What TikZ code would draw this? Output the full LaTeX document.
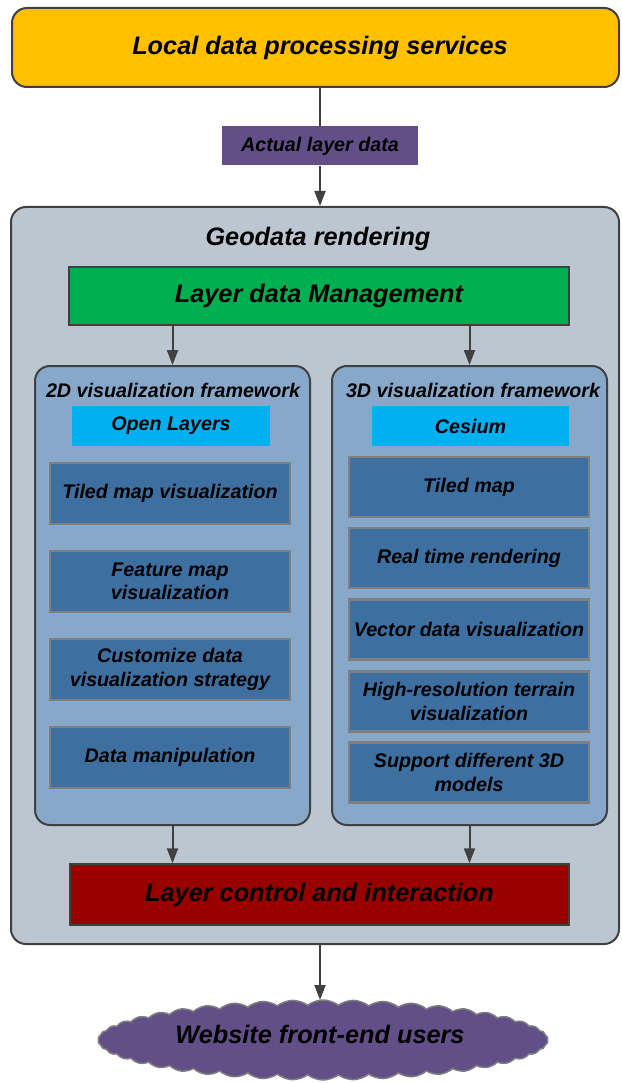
\documentclass[tikz,border=0pt]{standalone}
\usepackage{fontspec}
\setmainfont{Liberation Sans}
\usetikzlibrary{arrows.meta}
\usetikzlibrary{shapes.symbols}
\definecolor{dgray}{HTML}{404040}
\definecolor{mgray}{HTML}{7F7F7F}
\definecolor{myellow}{HTML}{FFC000}
\definecolor{mpurple}{HTML}{634F87}
\definecolor{mbg}{HTML}{BCC6D0}
\definecolor{mgreen}{HTML}{00B050}
\definecolor{mframe}{HTML}{88A8CA}
\definecolor{mcyan}{HTML}{00B0F0}
\definecolor{msteel}{HTML}{3D6FA1}
\definecolor{mred}{HTML}{990000}
\newcommand{\bigtxt}{\bfseries\itshape\fontsize{25.3}{29}\selectfont}
\newcommand{\smalltxt}{\bfseries\itshape\fontsize{19.7}{23.5}\selectfont}
\tikzset{
  txt/.style = {font = \smalltxt, align = center, text = black},
  panel/.style = {draw = dgray, line width = 2, rounded corners = 15, inner sep = 0},
  bar/.style = {txt, font = \bigtxt, draw = dgray, line width = 1.5, inner sep = 0},
  tag/.style = {txt, inner sep = 0},
  item/.style = {txt, fill = msteel, draw = mgray, line width = 2.5, inner sep = 0, minimum width = 240},
  arr/.style = {draw = dgray, line width = 2, -{Triangle[length = 15, width = 11]}}
}

\begin{document}
\begin{tikzpicture}[x = 1pt, y = -1pt]
    \useasboundingbox (0, 0) rectangle (621, 1083);

    % top service
    \node [panel, fill = myellow, minimum width = 607, minimum height = 79] (lds) at (315.5, 47.5) {};
    \node [txt, font = \bigtxt] at (320, 48) {Local data processing services};
    \node [tag, fill = mpurple, minimum width = 196, minimum height = 39] (ald) at (320, 146) {Actual layer data};

    % geodata rendering
    \node [panel, fill = mbg, minimum width = 608, minimum height = 737] (geo) at (315, 575.5) {};
    \node [txt, font = \bigtxt] (geot) at (318, 239) {Geodata rendering};
    \node [bar, fill = mgreen, minimum width = 500, minimum height = 58] (ldm) at (319, 296) {Layer data Management};

    % 2D framework
    \node [panel, fill = mframe, minimum width = 275, minimum height = 459] (fwa) at (172.5, 595.5) {};
    \node [txt] (fwat) at (173, 390) {2D visualization framework};
    \node [tag, fill = mcyan, minimum width = 198, minimum height = 40] (ol) at (171, 426) {Open Layers};
    \node [item, minimum height = 61] (a1) at (170, 493.5) {Tiled map visualization};
    \node [item, minimum height = 61] (a2) at (170, 581.5) {Feature map\\visualization};
    \node [item, minimum height = 61] (a3) at (170, 669.5) {Customize data\\visualization strategy};
    \node [item, minimum height = 61] (a4) at (170, 757.5) {Data manipulation};

    % 3D framework
    \node [panel, fill = mframe, minimum width = 275, minimum height = 459] (fwb) at (469.5, 595.5) {};
    \node [txt] (fwbt) at (473, 390) {3D visualization framework};
    \node [tag, fill = mcyan, minimum width = 197, minimum height = 40] (ces) at (470.5, 426) {Cesium};
    \node [item, minimum height = 60] (b1) at (469, 487) {Tiled map};
    \node [item, minimum height = 60] (b2) at (469, 558) {Real time rendering};
    \node [item, minimum height = 60] (b3) at (469, 629.5) {Vector data visualization};
    \node [item, minimum height = 60] (b4) at (469, 701.5) {High-resolution terrain\\visualization};
    \node [item, minimum height = 60] (b5) at (469, 772.5) {Support different 3D\\models};

    \node [bar, fill = mred, minimum width = 499, minimum height = 61] (lci) at (319.5, 894.5) {Layer control and interaction};

    % users
    \node [cloud, cloud puffs = 46, cloud puff arc = 75, aspect = 5.6, draw = mgray, line width = 1.5,
           fill = mpurple, minimum width = 450, minimum height = 80, inner sep = 0] (usr) at (323, 1040) {};
    \node [txt, font = \bigtxt] at (320, 1034) {Website front-end users};

    \draw [draw = dgray, line width = 2] (lds.south -| ald.north) -- (ald.north);
    \draw [arr] (ald.south) -- (ald.south |- geo.north);
    \draw [arr] (ldm.south -| fwa.north) -- (fwa.north);
    \draw [arr] (ldm.south -| fwb.north) -- (fwb.north);
    \draw [arr] (fwa.south) -- (fwa.south |- lci.north);
    \draw [arr] (fwb.south) -- (fwb.south |- lci.north);
    \draw [arr] (geo.south -| 320, 0) -- (320, 1000);
  \end{tikzpicture}
\end{document}
